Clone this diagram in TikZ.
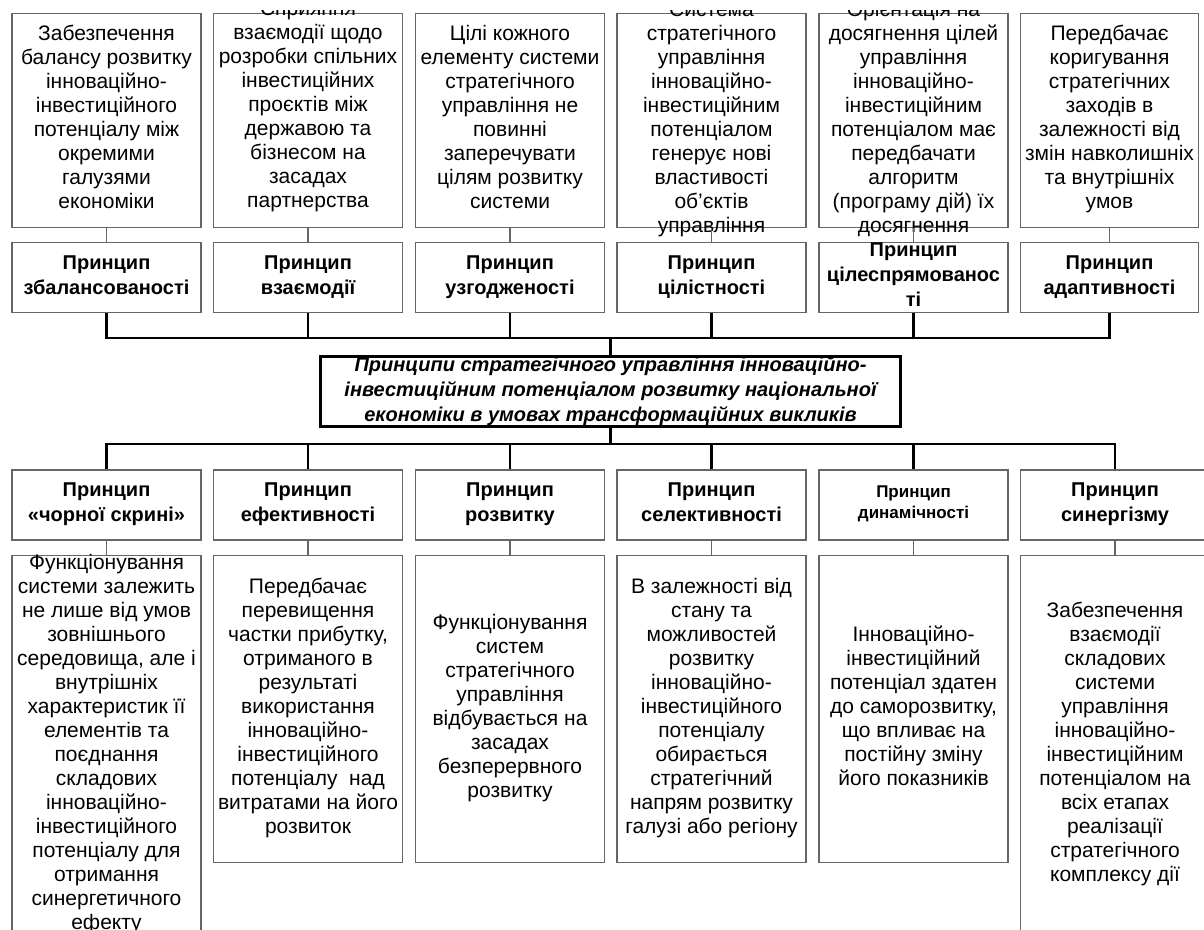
\documentclass[tikz,border=0pt]{standalone}
\usepackage{fontspec}
\setmainfont{Liberation Sans}
\newcommand{\topstrut}{\rule{0pt}{15pt}}
\newcommand{\botstrut}{\rule[-5pt]{0pt}{5pt}}
\tikzset{
    descbox/.style={draw=black!60, line width=1.1pt, minimum width=189pt, minimum height=214pt, inner sep=0pt},
    desctext/.style={align=center, inner sep=0pt, font=\fontsize{21}{24}\selectfont,
        execute at begin node=\strut, execute at end node=\strut},
    princbox/.style={draw=black!60, line width=1.1pt, minimum width=189pt, minimum height=70pt, inner sep=0pt, align=center, font=\bfseries\fontsize{20}{25}\selectfont,
        execute at begin node=\topstrut, execute at end node=\botstrut},
    mainbox/.style={draw, line width=2.6pt, minimum width=580pt, minimum height=70pt, inner sep=0pt, align=center, font=\bfseries\itshape\fontsize{20}{25}\selectfont,
        execute at begin node=\topstrut, execute at end node=\botstrut},
    thinlink/.style={draw=black!60, line width=1.1pt},
    buslink/.style={draw, line width=2.4pt},
}
\begin{document}
\begin{tikzpicture}[x=1pt, y=-1pt]
    \useasboundingbox (0,0) rectangle (1204,929);
    \clip (0,10) rectangle (1204,929);
    % upper descriptions
    \node[descbox] (t1) at (106.5,120.5) {};
    \node[descbox] (t2) at (308,120.5) {};
    \node[descbox] (t3) at (510,120.5) {};
    \node[descbox] (t4) at (711.5,120.5) {};
    \node[descbox] (t5) at (913.5,120.5) {};
    \node[descbox, minimum width=178pt] (t6) at (1109.5,120.5) {};
    \node[desctext] at (t1) {Забезпечення\\балансу розвитку\\інноваційно-\\інвестиційного\\потенціалу між\\окремими\\галузями\\економіки};
    \node[desctext, yshift=12.5pt] at (t2) {Сприяння\\взаємодії щодо\\розробки спільних\\інвестиційних\\проєктів між\\державою та\\бізнесом на\\засадах\\партнерства};
    \node[desctext] at (t3) {Цілі кожного\\елементу системи\\стратегічного\\управління не\\повинні\\заперечувати\\цілям розвитку\\системи};
    \node[desctext] at (t4) {Система\\стратегічного\\управління\\інноваційно-\\інвестиційним\\потенціалом\\генерує нові\\властивості\\об'єктів\\управління};
    \node[desctext] at (t5) {Орієнтація на\\досягнення цілей\\управління\\інноваційно-\\інвестиційним\\потенціалом має\\передбачати\\алгоритм\\(програму дій) їх\\досягнення};
    \node[desctext] at (t6) {Передбачає\\коригування\\стратегічних\\заходів в\\залежності від\\змін навколишніх\\та внутрішніх\\умов};
    % upper principles
    \node[princbox] (p1) at (106.5,277.5) {Принцип\\збалансованості};
    \node[princbox] (p2) at (308,277.5) {Принцип\\взаємодії};
    \node[princbox] (p3) at (510,277.5) {Принцип\\узгодженості};
    \node[princbox] (p4) at (711.5,277.5) {Принцип\\цілістності};
    \node[princbox] (p5) at (913.5,277.5) {Принцип\\цілеспрямованос\\ті};
    \node[princbox, minimum width=178pt] (p6) at (1109.5,277.5) {Принцип\\адаптивності};
    % central box
    \node[mainbox] (m) at (610.5,391.5) {Принципи стратегічного управління інноваційно-\\інвестиційним потенціалом розвитку національної\\економіки в умовах трансформаційних викликів};
    % lower principles
    \node[princbox] (q1) at (106.5,505) {Принцип\\«чорної скрині»};
    \node[princbox] (q2) at (308,505) {Принцип\\ефективності};
    \node[princbox] (q3) at (510,505) {Принцип\\розвитку};
    \node[princbox] (q4) at (711.5,505) {Принцип\\селективності};
    \node[princbox, font=\bfseries\fontsize{17}{21}\selectfont] (q5) at (913.5,505) {Принцип\\динамічності};
    \node[princbox] (q6) at (1115,505) {Принцип\\синергізму};
    % lower descriptions
    \node[descbox, minimum height=379pt] (b1) at (106.5,745) {};
    \node[descbox, minimum height=307pt] (b2) at (308,709) {};
    \node[descbox, minimum height=307pt] (b3) at (510,709) {};
    \node[descbox, minimum height=307pt] (b4) at (711.5,709) {};
    \node[descbox, minimum height=307pt] (b5) at (913.5,709) {};
    \node[descbox, minimum height=379pt] (b6) at (1115,745) {};
    \node[desctext] at (b1) {Функціонування\\системи залежить\\не лише від умов\\зовнішнього\\середовища, але і\\внутрішніх\\характеристик її\\елементів та\\поєднання\\складових\\інноваційно-\\інвестиційного\\потенціалу для\\отримання\\синергетичного\\ефекту};
    \node[desctext] at (b2) {Передбачає\\перевищення\\частки прибутку,\\отриманого в\\результаті\\використання\\інноваційно-\\інвестиційного\\потенціалу~ над\\витратами на його\\розвиток};
    \node[desctext] at (b3) {Функціонування\\систем\\стратегічного\\управління\\відбувається на\\засадах\\безперервного\\розвитку};
    \node[desctext] at (b4) {В залежності від\\стану та\\можливостей\\розвитку\\інноваційно-\\інвестиційного\\потенціалу\\обирається\\стратегічний\\напрям розвитку\\галузі або регіону};
    \node[desctext] at (b5) {Інноваційно-\\інвестиційний\\потенціал здатен\\до саморозвитку,\\що впливає на\\постійну зміну\\його показників};
    \node[desctext] at (b6) {Забезпечення\\взаємодії\\складових\\системи\\управління\\інноваційно-\\інвестиційним\\потенціалом на\\всіх етапах\\реалізації\\стратегічного\\комплексу дії};
    % thin links
    \draw[thinlink] (t1) -- (p1);
    \draw[thinlink] (t2) -- (p2);
    \draw[thinlink] (t3) -- (p3);
    \draw[thinlink] (t4) -- (p4);
    \draw[thinlink] (t5) -- (p5);
    \draw[thinlink] (t6) -- (p6);
    \draw[thinlink] (q1) -- (b1);
    \draw[thinlink] (q2) -- (b2);
    \draw[thinlink] (q3) -- (b3);
    \draw[thinlink] (q4) -- (b4);
    \draw[thinlink] (q5) -- (b5);
    \draw[thinlink] (q6) -- (b6);
    % buses
    \coordinate (upbus) at (611,338);
    \coordinate (lowbus) at (611,444);
    \draw[buslink] (p1.south) |- (upbus) -| (p6.south);
    \draw[buslink] (p2.south) -- (p2.south |- upbus);
    \draw[buslink] (p3.south) -- (p3.south |- upbus);
    \draw[buslink] (p4.south) -- (p4.south |- upbus);
    \draw[buslink] (p5.south) -- (p5.south |- upbus);
    \draw[buslink] (m.north) -- (m.north |- upbus);
    \draw[buslink] (q1.north) |- (lowbus) -| (q6.north);
    \draw[buslink] (q2.north) -- (q2.north |- lowbus);
    \draw[buslink] (q3.north) -- (q3.north |- lowbus);
    \draw[buslink] (q4.north) -- (q4.north |- lowbus);
    \draw[buslink] (q5.north) -- (q5.north |- lowbus);
    \draw[buslink] (m.south) -- (m.south |- lowbus);
\end{tikzpicture}
\end{document}
